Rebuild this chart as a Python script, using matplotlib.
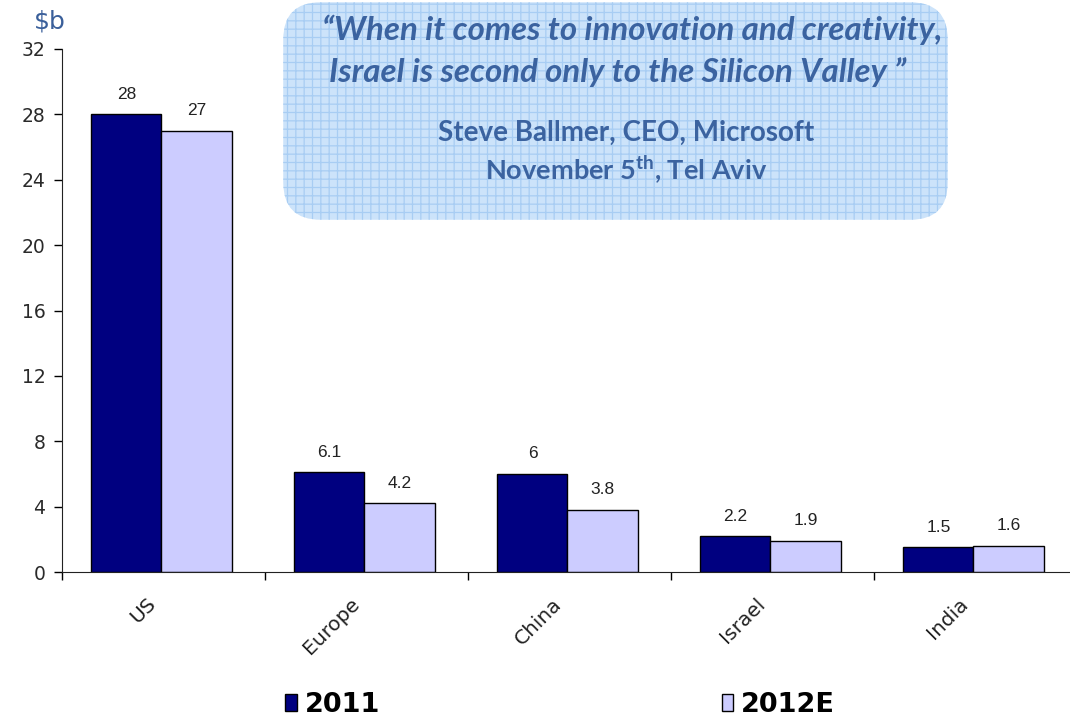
import matplotlib
matplotlib.use("Agg")
import matplotlib.pyplot as plt
import matplotlib.transforms as mtransforms
from matplotlib.patches import FancyBboxPatch, Patch
import numpy as np

categories = ["US", "Europe", "China", "Israel", "India"]
series_names = ["2011", "2012E"]
values_2011 = [28, 6.1, 6, 2.2, 1.5]
values_2012 = [27, 4.2, 3.8, 1.9, 1.6]
labels_2011 = ["28", "6.1", "6", "2.2", "1.5"]
labels_2012 = ["27", "4.2", "3.8", "1.9", "1.6"]
yticks = [0, 4, 8, 12, 16, 20, 24, 28, 32]

quote_lines = ["\u201cWhen it comes to innovation and creativity,",
               "Israel is second only to the Silicon Valley \u201d"]
author_line = "Steve Ballmer, CEO, Microsoft"
date_line = r"November 5$^{\mathbf{th}}$, Tel Aviv"

plt.rcParams["mathtext.fontset"] = "custom"
plt.rcParams["mathtext.rm"] = "Lato"
plt.rcParams["mathtext.bf"] = "Lato:bold"
plt.rcParams["mathtext.it"] = "Lato:italic"

W, H = 1070, 724
fig = plt.figure(figsize=(W / 100, H / 100), dpi=100)
fig.patch.set_facecolor("white")

ax = fig.add_axes([62 / W, (H - 572) / H, 1015 / W, (572 - 49) / H])
x = np.arange(len(categories))
bw = 0.345
off = 0.145
b1 = ax.bar(x + off, values_2011, width=bw, align="edge", color="#000080",
            edgecolor="black", linewidth=1, label=series_names[0])
b2 = ax.bar(x + off + bw, values_2012, width=bw, align="edge", color="#ccccff",
            edgecolor="black", linewidth=1, label=series_names[1])
ax.bar_label(b1, labels=labels_2011, padding=9, fontsize=12.5, family="Liberation Sans", color="#222222")
ax.bar_label(b2, labels=labels_2012, padding=9, fontsize=12.5, family="Liberation Sans", color="#222222")

ax.set_xlim(0, 5)
ax.set_ylim(0, 32)
ax.set_yticks(yticks)
ax.set_yticklabels([str(t) for t in yticks], fontsize=13.5, color="#2a2a2a")
ax.set_xticks(np.arange(0, 6))
ax.set_xticklabels([])
ax.set_xticks(x + 0.5, minor=True)
ax.set_xticklabels(categories, minor=True, rotation=45, ha="right",
                   rotation_mode="anchor", fontsize=14.5, color="#222222")
ax.tick_params(axis="x", which="minor", length=0, pad=16)
ax.tick_params(axis="x", which="major", length=6, width=1, direction="out")
ax.tick_params(axis="y", length=6, width=1, direction="out", pad=6)
shift = mtransforms.ScaledTranslation(-0.17, 0, fig.dpi_scale_trans)
for lab in ax.get_xticklabels(minor=True):
    lab.set_transform(lab.get_transform() + shift)
for s in ["top", "right"]:
    ax.spines[s].set_visible(False)
ax.spines["left"].set_color("#222222")
ax.spines["bottom"].set_color("#222222")

fig.text(34 / W, (H - 21) / H, "$b", fontsize=18, color="#3a5f9a", va="center", ha="left")

# quote box
plt.rcParams["hatch.linewidth"] = 0.9
plt.rcParams["hatch.color"] = "#a8cdf3"
box = FancyBboxPatch((295 / W, (H - 208) / H), (936 - 295) / W, (208 - 14) / H,
                     boxstyle="round,pad=0.011,rounding_size=0.035",
                     transform=fig.transFigure, facecolor="#cce3fa",
                     edgecolor="#a8cdf3", hatch="++", linewidth=0, zorder=0,
                     mutation_aspect=W / H)
fig.patches.append(box)
qc = "#3b63a0"
fig.text(632 / W, (H - 30) / H, quote_lines[0], fontsize=23.8, family="Lato",
         style="italic", weight="bold", color=qc, ha="center", va="center")
fig.text(618 / W, (H - 72) / H, quote_lines[1], fontsize=23.8, family="Lato",
         style="italic", weight="bold", color=qc, ha="center", va="center")
fig.text(626 / W, (H - 133) / H, author_line, fontsize=20, family="Lato",
         weight="bold", color=qc, ha="center", va="center")
fig.text(626 / W, (H - 170) / H, date_line, fontsize=19.5,
         family="Lato", weight="bold", color=qc, ha="center", va="center")

leg = fig.legend(handles=[Patch(facecolor="#000080", edgecolor="black"),
                          Patch(facecolor="#ccccff", edgecolor="black")],
                 labels=series_names, loc="center left",
                 bbox_to_anchor=(261 / W, (H - 705) / H), ncol=2, frameon=False,
                 handlelength=0.42, handleheight=0.58, handletextpad=0.3,
                 columnspacing=12.6, prop={"size": 19.5, "weight": "bold"})

fig.savefig("out.png", dpi=100)
